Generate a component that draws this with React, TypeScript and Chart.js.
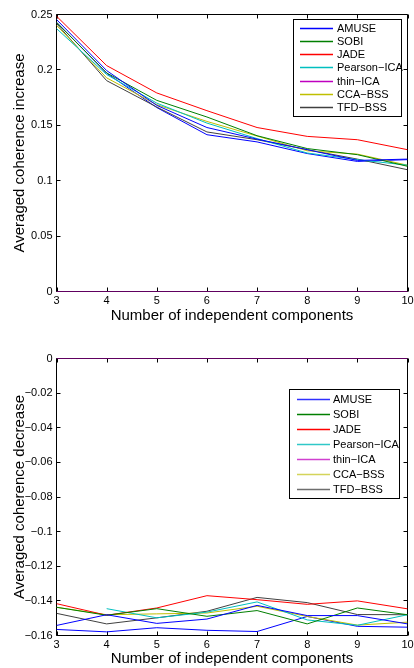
import React, { useEffect, useRef } from 'react';
import Chart from 'chart.js/auto';

// ---- data ----
const componentCounts = [3, 4, 5, 6, 7, 8, 9, 10];
const seriesNames = ['AMUSE', 'SOBI', 'JADE', 'Pearson\u2212ICA', 'thin\u2212ICA', 'CCA\u2212BSS', 'TFD\u2212BSS'];
const seriesColors = ['#0000ff', '#007f00', '#ff0000', '#00bfbf', '#bf00bf', '#bfbf00', '#404040'];
const legendColorsLower = ['#3030ff', '#007f00', '#ff0000', '#30c8c8', '#d040d0', '#d4d45a', '#6e6e6e'];

// Averaged coherence increase
const amuseIncrease = [0.2455, 0.1994, 0.168, 0.148, 0.1375, 0.128, 0.1183, 0.1195];
const amuseRun2Increase = [0.243, 0.197, 0.166, 0.1415, 0.135, 0.1245, 0.1174, 0.119];
const sobiIncrease = [0.243, 0.1973, 0.1725, 0.1575, 0.1406, 0.129, 0.1235, 0.113];
const jadeIncrease = [0.2485, 0.2039, 0.1792, 0.1632, 0.148, 0.14, 0.137, 0.128];
const pearsonIncrease = [0.2373, 0.1958, 0.17, 0.152, 0.138, 0.125, 0.119, 0.114];
const thinIncrease = [0, 0, 0, 0, 0, 0, 0, 0];
const ccaIncrease = [0.2403, 0.1928, 0.1686, 0.1535, 0.1403, 0.127, 0.124, 0.114];
const tfdIncrease = [0.242, 0.1903, 0.1665, 0.144, 0.137, 0.128, 0.1195, 0.1099];

// Averaged coherence decrease
const amuseDecrease = [-0.1542, -0.148, -0.153, -0.1505, -0.1426, -0.1485, -0.1485, -0.1533];
const amuseRun2Decrease = [-0.1565, -0.1579, -0.1555, -0.157, -0.1577, -0.149, -0.1547, -0.1552];
const sobiDecrease = [-0.1437, -0.1483, -0.1445, -0.1489, -0.1456, -0.1533, -0.1441, -0.148];
const jadeDecrease = [-0.1416, -0.1483, -0.1441, -0.137, -0.1393, -0.142, -0.14, -0.1446];
const pearsonDecrease = [null, -0.1445, -0.1498, -0.1465, -0.1406, -0.151, -0.1541, -0.148];
const thinDecrease = [0, 0, 0, 0, 0, 0, 0, 0];
const ccaDecrease = [-0.1437, -0.148, -0.1475, -0.147, -0.1431, -0.149, -0.154, -0.1523];
const tfdDecrease = [-0.1472, -0.1533, -0.1498, -0.146, -0.138, -0.141, -0.1479, -0.148];

const increaseTicks = { min: 0, max: 0.25, step: 0.05 };
const decreaseTicks = { min: -0.16, max: 0, step: 0.02 };

const FONT = 'Liberation Sans, Arial, Helvetica, sans-serif';

type LegendCfg = {
  rightInset: number; topInset: number; width: number; rowGap: number; extra: number;
  firstRow: number; lineStart: number; lineEnd: number; textStart: number; lineWidth: number; colors: string[];
};

function makeFramePlugin(lg: LegendCfg) {
  return {
    id: 'matlabFrame',
    beforeDatasetsDraw(chart: any) {
      const { ctx, chartArea: a, scales } = chart;
      ctx.save();
      ctx.strokeStyle = '#000';
      ctx.lineWidth = 1;
      const L = a.left, R = a.right, T = a.top, B = a.bottom;
      ctx.beginPath();
      ctx.rect(L, T, R - L, B - T);
      ctx.stroke();
      const tl = 4;
      ctx.beginPath();
      scales.x.ticks.forEach((_: any, i: number) => {
        const px = Math.round(scales.x.getPixelForTick(i)) + 0.5;
        ctx.moveTo(px, B); ctx.lineTo(px, B - tl);
        ctx.moveTo(px, T); ctx.lineTo(px, T + tl);
      });
      scales.y.ticks.forEach((_: any, i: number) => {
        const py = Math.round(scales.y.getPixelForTick(i) - 0.5) + 0.5;
        ctx.moveTo(L, py); ctx.lineTo(L + tl, py);
        ctx.moveTo(R, py); ctx.lineTo(R - tl, py);
      });
      ctx.stroke();
      ctx.restore();
    },
    afterDatasetsDraw(chart: any) {
      const { ctx, chartArea: a } = chart;
      ctx.save();
      const right = a.right - lg.rightInset;
      const left = Math.round(right - lg.width);
      const top = Math.round(a.top + lg.topInset);
      const h = Math.round(lg.rowGap * seriesNames.length + lg.extra);
      ctx.fillStyle = '#fff';
      ctx.fillRect(left, top, lg.width, h);
      ctx.strokeStyle = '#000';
      ctx.lineWidth = 1;
      ctx.strokeRect(left + 0.5, top + 0.5, Math.round(lg.width), h);
      ctx.font = `11px ${FONT}`;
      ctx.textBaseline = 'middle';
      ctx.textAlign = 'left';
      for (let i = 0; i < seriesNames.length; i++) {
        const y = Math.round(top + lg.firstRow + i * lg.rowGap) + 0.5;
        ctx.strokeStyle = lg.colors[i];
        ctx.lineWidth = lg.lineWidth;
        ctx.beginPath();
        ctx.moveTo(left + lg.lineStart, y);
        ctx.lineTo(left + lg.lineEnd, y);
        ctx.stroke();
        ctx.fillStyle = '#000';
        ctx.fillText(seriesNames[i], left + lg.textStart, y);
      }
      ctx.restore();
    },
  };
}

function fmt(v: number) {
  const n = Number(Number(v).toFixed(3));
  return n === 0 ? '0' : String(n).replace('-', '\u2212');
}

type PanelProps = {
  series: (number | null)[][];
  yTitle: string;
  ticks: { min: number; max: number; step: number };
  padTop: number;
  xHeight: number;
  xTitlePad: number;
  legend: LegendCfg;
};

function Panel({ series, yTitle, ticks, padTop, xHeight, xTitlePad, legend }: PanelProps) {
  const ref = useRef<HTMLCanvasElement | null>(null);
  useEffect(() => {
    if (!ref.current) return;
    const colorsFor = [...seriesColors, seriesColors[0]];
    const labelsFor = [...seriesNames, 'AMUSE (run 2)'];
    const datasets = series.map((vals, i) => ({
      label: labelsFor[i],
      data: componentCounts.map((x, j) => ({ x, y: vals[j] })),
      borderColor: colorsFor[i],
      backgroundColor: colorsFor[i],
      borderWidth: 1,
      pointRadius: 0,
      tension: 0,
      spanGaps: false,
      order: i === 4 ? -1 : 0,
    }));
    const chart = new Chart(ref.current, {
      type: 'line',
      data: { datasets },
      plugins: [makeFramePlugin(legend)],
      options: {
        animation: false,
        responsive: false,
        maintainAspectRatio: false,
        layout: { padding: { left: 0, top: padTop, right: 6.5, bottom: 0 } },
        plugins: {
          legend: { display: false },
          tooltip: { enabled: false },
        },
        scales: {
          x: {
            type: 'linear',
            min: 3,
            max: 10,
            grid: { display: false, drawTicks: false },
            border: { display: false },
            ticks: {
              stepSize: 1,
              padding: 3,
              color: '#000',
              maxRotation: 0,
              autoSkip: false,
              font: { size: 11, family: FONT },
            },
            title: {
              display: true,
              text: 'Number of independent components',
              color: '#000',
              font: { size: 15, family: FONT },
              padding: { top: 0, bottom: xTitlePad },
            },
            afterFit(s: any) {
              s.height = xHeight;
              s.paddingLeft = 0;
              s.paddingRight = 0;
            },
          },
          y: {
            type: 'linear',
            min: ticks.min,
            max: ticks.max,
            grid: { display: false, drawTicks: false },
            border: { display: false },
            ticks: {
              stepSize: ticks.step,
              padding: 4,
              color: '#000',
              font: { size: 11, family: FONT },
              callback: (v: any) => fmt(v),
            },
            title: {
              display: true,
              text: yTitle,
              color: '#000',
              font: { size: 15, family: FONT },
              padding: { top: 11, bottom: 0 },
            },
            afterFit(s: any) {
              s.width = 56.5;
              s.paddingTop = 0;
              s.paddingBottom = 0;
            },
          },
        },
      } as any,
    });
    return () => chart.destroy();
  }, []);
  return <canvas ref={ref} width={414} height={334} style={{ display: 'block', width: 414, height: 334 }} />;
}

export default function App() {
  const increaseSeries = [amuseIncrease, sobiIncrease, jadeIncrease, pearsonIncrease, thinIncrease, ccaIncrease, tfdIncrease, amuseRun2Increase];
  const decreaseSeries = [amuseDecrease, sobiDecrease, jadeDecrease, pearsonDecrease, thinDecrease, ccaDecrease, tfdDecrease, amuseRun2Decrease];
  return (
    <div style={{ position: 'absolute', left: 0, top: 0, width: 414, height: 668, background: '#fff' }}>
      <Panel
        series={increaseSeries}
        yTitle="Averaged coherence increase"
        ticks={increaseTicks}
        padTop={14.5}
        xHeight={42.5}
        xTitlePad={9}
        legend={{ rightInset: 7, topInset: 4.5, width: 108, rowGap: 13.33, extra: 4, firstRow: 8.5, lineStart: 7, lineEnd: 40, textStart: 44, lineWidth: 1.5, colors: seriesColors }}
      />
      <Panel
        series={decreaseSeries}
        yTitle="Averaged coherence decrease"
        ticks={decreaseTicks}
        padTop={24.5}
        xHeight={32.5}
        xTitlePad={0}
        legend={{ rightInset: 9, topInset: 30.5, width: 110, rowGap: 15, extra: 4, firstRow: 9.5, lineStart: 8, lineEnd: 41, textStart: 44, lineWidth: 1.5, colors: legendColorsLower }}
      />
    </div>
  );
}
